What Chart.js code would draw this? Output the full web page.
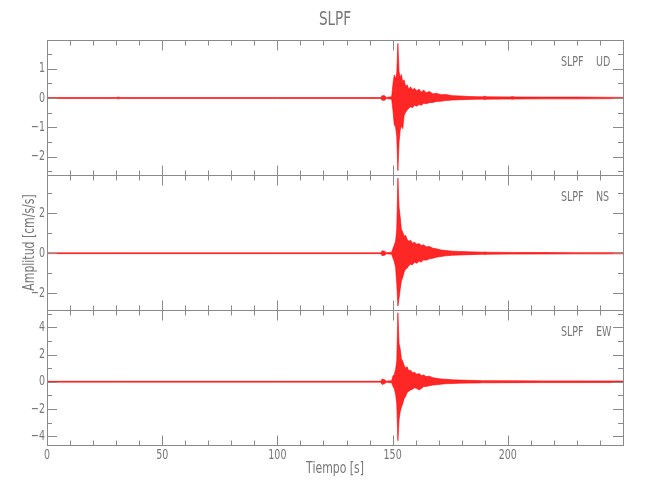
<!DOCTYPE html>
<html>
<head>
<meta charset="utf-8">
<script src="https://cdn.jsdelivr.net/npm/chart.js@4.4.1/dist/chart.umd.min.js"></script>
<style>
  html, body { margin: 0; padding: 0; background: #fff; }
  #wrap { position: relative; width: 650px; height: 500px; }
</style>
</head>
<body>
<div id="wrap"><canvas id="seis" width="650" height="500"></canvas></div>
<script>
// station / labels
const station = 'SLPF';
const components = ['UD', 'NS', 'EW'];
const xTitle = 'Tiempo [s]';
const yTitle = 'Amplitud [cm/s/s]';

// tick labels
const xTickLabels = [0, 50, 100, 150, 200];
const yTicksUD = [-2, -1, 0, 1];
const yTicksNS = [-2, 0, 2];
const yTicksEW = [-4, -2, 0, 2, 4];

// time samples [s] where the trace envelope was read
const tSec = [0, 30, 31, 32, 100, 144.8, 145.5, 146.5, 147.3, 149.6,
  150.2, 150.7, 151.3, 151.8, 152.3, 152.8, 153.3, 153.8, 154.4, 155,
  155.6, 156.3, 157, 157.8, 158.6, 159.5, 160.5, 161.5, 162.5, 163.5,
  164.5, 166, 167.5, 169, 171, 173, 176, 179, 183, 187,
  189, 190, 191, 201, 202, 203, 215, 230, 250];

// envelope (max / min of the trace) per component, cm/s/s
const udMax = [0.015, 0.015, 0.03, 0.015, 0.015, 0.015, 0.08, 0.08, 0.02, 0.04,
  0.5, 0.78, 0.65, 0.85, 1.86, 0.9, 0.7, 0.8, 0.55, 0.62,
  0.4, 0.45, 0.3, 0.38, 0.28, 0.33, 0.25, 0.3, 0.2, 0.27,
  0.18, 0.22, 0.14, 0.16, 0.11, 0.12, 0.08, 0.07, 0.05, 0.045,
  0.04, 0.06, 0.04, 0.035, 0.05, 0.035, 0.03, 0.03, 0.02];
const udMin = [-0.015, -0.015, -0.03, -0.015, -0.015, -0.015, -0.08, -0.08, -0.02, -0.04,
  -0.45, -0.9, -1.0, -1.3, -2.48, -1.5, -1.1, -0.95, -1.05, -0.6,
  -0.5, -0.42, -0.35, -0.3, -0.33, -0.25, -0.28, -0.22, -0.25, -0.18,
  -0.2, -0.16, -0.15, -0.12, -0.11, -0.09, -0.07, -0.06, -0.05, -0.04,
  -0.04, -0.05, -0.04, -0.035, -0.045, -0.035, -0.03, -0.03, -0.02];

const nsMax = [0.02, 0.02, 0.02, 0.02, 0.02, 0.02, 0.12, 0.1, 0.03, 0.05,
  0.25, 0.4, 0.6, 1.2, 3.75, 2.3, 1.8, 1.2, 1.05, 0.85,
  0.9, 0.7, 0.6, 0.65, 0.5, 0.55, 0.45, 0.48, 0.38, 0.42,
  0.32, 0.33, 0.25, 0.22, 0.16, 0.14, 0.1, 0.09, 0.07, 0.06,
  0.05, 0.06, 0.05, 0.04, 0.04, 0.04, 0.035, 0.03, 0.03];
const nsMin = [-0.02, -0.02, -0.02, -0.02, -0.02, -0.02, -0.12, -0.1, -0.03, -0.05,
  -0.25, -0.4, -0.7, -1.5, -2.63, -2.25, -1.8, -1.4, -1.2, -0.95,
  -0.8, -0.75, -0.62, -0.55, -0.58, -0.45, -0.5, -0.4, -0.44, -0.33,
  -0.35, -0.28, -0.25, -0.2, -0.16, -0.13, -0.1, -0.09, -0.07, -0.06,
  -0.05, -0.06, -0.05, -0.04, -0.04, -0.04, -0.035, -0.03, -0.03];

const ewMax = [0.03, 0.03, 0.03, 0.03, 0.03, 0.03, 0.2, 0.15, 0.04, 0.08,
  0.45, 0.5, 0.9, 1.5, 5.07, 2.8, 2.4, 1.7, 1.5, 1.2,
  1.0, 1.1, 0.8, 0.85, 0.65, 0.7, 0.55, 0.6, 0.45, 0.5,
  0.38, 0.4, 0.3, 0.25, 0.2, 0.18, 0.14, 0.12, 0.1, 0.09,
  0.08, 0.08, 0.08, 0.07, 0.07, 0.07, 0.06, 0.06, 0.05];
const ewMin = [-0.03, -0.03, -0.03, -0.03, -0.03, -0.03, -0.2, -0.15, -0.04, -0.08,
  -0.35, -0.5, -0.9, -1.6, -4.34, -2.8, -2.2, -1.9, -1.6, -1.25,
  -1.1, -0.8, -0.7, -0.6, -0.55, -0.45, -0.5, -0.6, -0.5, -0.35,
  -0.35, -0.3, -0.25, -0.22, -0.18, -0.15, -0.13, -0.11, -0.1, -0.09,
  -0.08, -0.08, -0.08, -0.07, -0.07, -0.07, -0.06, -0.06, -0.05];

const AX = '#8a8a8a', TXT = '#777';

const pts = arr => arr.map((v, i) => ({x: tSec[i], y: v}));
const trace = (arr, axis, fill) => ({
  data: pts(arr), yAxisID: axis, fill: fill,
  borderColor: '#ff0000', borderWidth: 0.6,
  backgroundColor: 'rgba(255,0,0,0.85)',
  pointRadius: 0, tension: 0
});

// condensed thin text, like the plotting package of the original
function txt(ctx, s, x, y, size, align, rot) {
  ctx.save();
  ctx.translate(x, y);
  if (rot) ctx.rotate(rot);
  ctx.scale(0.68, 1);
  ctx.font = size + 'px "DejaVu Sans"';
  ctx.fillStyle = TXT;
  ctx.textAlign = align;
  ctx.textBaseline = 'middle';
  ctx.fillText(s, 0, 0);
  ctx.restore();
}

const panelInfo = [
  {id: 'y1', labels: yTicksUD, minor: 0.5, comp: components[0]},
  {id: 'y2', labels: yTicksNS, minor: 1, comp: components[1]},
  {id: 'y3', labels: yTicksEW, minor: 1, comp: components[2]}
];

const framePlugin = {
  id: 'frame',
  beforeDraw(chart) {
    const c = chart.ctx;
    c.save(); c.fillStyle = '#fff'; c.fillRect(0, 0, chart.width, chart.height); c.restore();
  },
  afterDraw(chart) {
    const c = chart.ctx, xs = chart.scales.x;
    const L = xs.left, R = xs.right;
    c.save();
    c.strokeStyle = AX; c.lineWidth = 1;
    panelInfo.forEach((p, k) => {
      const ys = chart.scales[p.id];
      const T = Math.round(ys.top) + 0.5, B = Math.round(ys.bottom) + 0.5;
      c.strokeRect(Math.round(L) + 0.5, T, Math.round(R - L), B - T);
      c.beginPath();
      // x ticks, top and bottom of each panel
      for (let v = 0; v <= xs.max; v += 10) {
        const px = Math.round(xs.getPixelForValue(v)) + 0.5;
        const len = v % 50 === 0 ? 10 : 5;
        c.moveTo(px, T); c.lineTo(px, T + len);
        c.moveTo(px, B); c.lineTo(px, B - len);
      }
      // y ticks, left and right
      const major = p.labels[1] - p.labels[0];
      for (let v = Math.ceil(ys.min / p.minor) * p.minor; v <= ys.max; v += p.minor) {
        const py = Math.round(ys.getPixelForValue(v)) + 0.5;
        const isMaj = Math.abs(v / major - Math.round(v / major)) < 1e-6;
        const len = isMaj ? 10 : 5;
        c.moveTo(L, py); c.lineTo(L + len, py);
        c.moveTo(R, py); c.lineTo(R - len, py);
      }
      c.stroke();
      p.labels.forEach(v => {
        const lab = v < 0 ? '\u2212' + Math.abs(v) : String(v);
        txt(c, lab, L - 2, ys.getPixelForValue(v), 14, 'right');
      });
      txt(c, station, 561, ys.top + 22, 14, 'left');
      txt(c, p.comp, 596, ys.top + 22, 14, 'left');
      if (k === 2) {
        xTickLabels.forEach(v => txt(c, String(v), xs.getPixelForValue(v), ys.bottom + 10, 14, 'center'));
      }
    });
    c.restore();
    const ca = chart.chartArea;
    txt(c, station, (ca.left + ca.right) / 2, 20, 20, 'center');
    txt(c, xTitle, (ca.left + ca.right) / 2, 469, 16, 'center');
    txt(c, yTitle, 30, (ca.top + ca.bottom) / 2, 16, 'center', -Math.PI / 2);
  }
};

new Chart(document.getElementById('seis'), {
  type: 'line',
  data: {
    datasets: [
      trace(udMax, 'y1', '+1'), trace(udMin, 'y1', false),
      trace(nsMax, 'y2', '+1'), trace(nsMin, 'y2', false),
      trace(ewMax, 'y3', '+1'), trace(ewMin, 'y3', false)
    ]
  },
  options: {
    responsive: false,
    animation: false,
    layout: { padding: { left: 47, right: 27, top: 40, bottom: 55 } },
    plugins: { legend: { display: false }, tooltip: { enabled: false } },
    scales: {
      x: { type: 'linear', min: 0, max: 250, display: false },
      y1: { type: 'linear', min: -2.63, max: 1.98, display: false, position: 'left', stack: 'seis', stackWeight: 1, weight: 2 },
      y2: { type: 'linear', min: -2.83, max: 3.9, display: false, position: 'left', stack: 'seis', stackWeight: 1, weight: 1 },
      y3: { type: 'linear', min: -4.65, max: 5.27, display: false, position: 'left', stack: 'seis', stackWeight: 1, weight: 0 }
    }
  },
  plugins: [framePlugin]
});
</script>
</body>
</html>
